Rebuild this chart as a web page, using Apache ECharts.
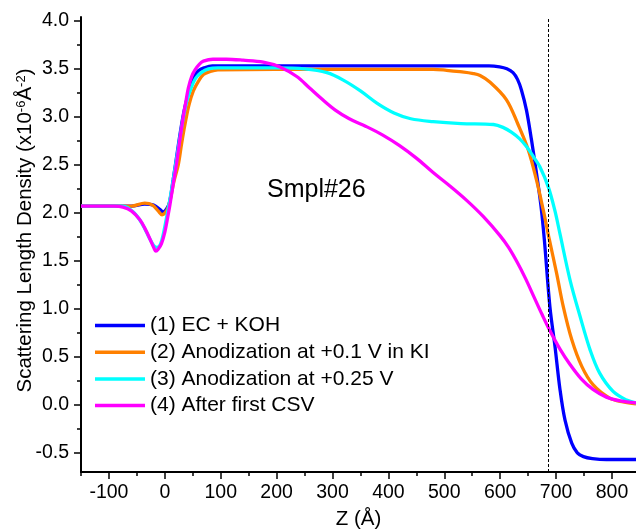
<!DOCTYPE html>
<html lang="en">
<head>
    <meta charset="UTF-8">
    <title>SLD profiles Smpl#26</title>
    <style>
        body, html {
            margin: 0;
            padding: 0;
            background-color: #ffffff;
        }
        #main {
            width: 636px;
            height: 529px;
        }
    </style>
    <script src="https://cdn.jsdelivr.net/npm/echarts@6/dist/echarts.min.js"></script>
</head>
<body>
    <div id="main"></div>

    <script>
        // series names
        var names = [
            "(1) EC + KOH",
            "(2) Anodization at +0.1 V in KI",
            "(3) Anodization at +0.25 V",
            "(4) After first CSV"
        ];

        // (1) EC + KOH
        var z1 = [-150, -60, -36, -20, -8, -3, 3, 8, 15, 22, 28, 34, 40, 45, 52, 60, 70, 85, 200, 400, 580, 599, 612, 623, 631, 638, 647, 656, 665, 673, 679, 689, 698, 707, 716, 728, 738, 749, 765, 790, 843];
        var sld1 = [2.07, 2.07, 2.09, 2.08, 2.03, 2.01, 2.04, 2.10, 2.35, 2.62, 2.85, 3.05, 3.20, 3.31, 3.42, 3.48, 3.51, 3.53, 3.53, 3.53, 3.53, 3.52, 3.50, 3.46, 3.39, 3.28, 3.07, 2.76, 2.41, 2.07, 1.72, 1.02, 0.61, 0.16, -0.16, -0.40, -0.50, -0.54, -0.56, -0.57, -0.57];

        // (2) Anodization at +0.1 V in KI
        var z2 = [-150, -60, -36, -22, -12, -5, 3, 9, 16, 24, 30, 36, 43, 51, 60, 69, 80, 95, 300, 480, 504, 528, 552, 564, 582, 611, 632, 650, 665, 677, 688, 701, 713, 728, 746, 766, 796, 820, 843];
        var sld2 = [2.07, 2.07, 2.10, 2.08, 2.02, 1.98, 2.02, 2.12, 2.32, 2.50, 2.72, 2.92, 3.12, 3.27, 3.37, 3.44, 3.47, 3.49, 3.495, 3.495, 3.485, 3.47, 3.45, 3.43, 3.36, 3.18, 2.92, 2.66, 2.34, 2.03, 1.72, 1.37, 1.02, 0.68, 0.40, 0.21, 0.07, 0.03, 0.01];

        // (3) Anodization at +0.25 V
        var z3 = [-150, -75, -55, -40, -28, -20, -14, -8, -2, 4, 10, 16, 22, 28, 34, 40, 47, 55, 65, 78, 95, 200, 250, 290, 320, 350, 380, 410, 440, 480, 530, 588, 605, 620, 635, 647, 660, 671, 686, 698, 707, 725, 743, 761, 778, 802, 826, 843];
        var sld3 = [2.07, 2.07, 2.00, 1.88, 1.74, 1.66, 1.64, 1.67, 1.80, 1.98, 2.17, 2.38, 2.60, 2.82, 3.02, 3.18, 3.30, 3.40, 3.46, 3.50, 3.51, 3.51, 3.50, 3.46, 3.38, 3.27, 3.14, 3.04, 2.98, 2.95, 2.93, 2.92, 2.89, 2.84, 2.77, 2.69, 2.58, 2.48, 2.27, 2.02, 1.78, 1.30, 0.92, 0.57, 0.33, 0.14, 0.05, 0.02];

        // (4) After first CSV
        var z4 = [-150, -90, -75, -60, -45, -35, -26, -20, -16, -12, -6, 0, 5, 9, 15, 21, 27, 33, 38, 42, 48, 54, 62, 69, 86, 110, 140, 176, 206, 236, 259, 280, 305, 330, 360, 390, 420, 450, 480, 510, 540, 570, 600, 615, 630, 645, 660, 675, 690, 707, 725, 745, 766, 790, 815, 843];
        var sld4 = [2.07, 2.07, 2.06, 2.02, 1.93, 1.83, 1.72, 1.64, 1.60, 1.62, 1.68, 1.80, 1.95, 2.08, 2.30, 2.52, 2.77, 3.00, 3.17, 3.30, 3.42, 3.49, 3.55, 3.58, 3.60, 3.60, 3.59, 3.57, 3.52, 3.42, 3.30, 3.19, 3.07, 2.98, 2.90, 2.81, 2.70, 2.57, 2.42, 2.28, 2.13, 1.96, 1.76, 1.64, 1.49, 1.32, 1.13, 0.94, 0.76, 0.58, 0.42, 0.27, 0.16, 0.08, 0.04, 0.02];

        // tick positions
        var xMajor = [-100, 0, 100, 200, 300, 400, 500, 600, 700, 800];
        var xMinor = [-150, -50, 50, 150, 250, 350, 450, 550, 650, 750];
        var yMajor = [-0.5, 0, 0.5, 1, 1.5, 2, 2.5, 3, 3.5, 4];
        var yMinor = [-0.25, 0.25, 0.75, 1.25, 1.75, 2.25, 2.75, 3.25, 3.75];

        var dashedZ = 686;
        var colors = ["#0000ff", "#ff8000", "#00ffff", "#ff00ff"];

        function pairs(xs, ys) {
            return xs.map(function (x, i) { return [x, ys[i]]; });
        }

        var font = "'Liberation Sans', Arial, sans-serif";
        var zs = [z1, z2, z3, z4];
        var sl = [sld1, sld2, sld3, sld4];

        var series = names.map(function (n, i) {
            return {
                name: n,
                type: "line",
                data: pairs(zs[i], sl[i]),
                showSymbol: false,
                smooth: 0.35,
                lineStyle: { width: 3.3, color: colors[i] },
                itemStyle: { color: colors[i] }
            };
        });

        series[0].markLine = {
            silent: true,
            symbol: "none",
            label: { show: false },
            lineStyle: { color: "#000", type: [3, 2], width: 1 },
            data: [{ xAxis: dashedZ }]
        };

        var my_chart = echarts.init(document.getElementById("main"));

        var option = {
            animation: false,
            color: colors,
            textStyle: { fontFamily: font, color: "#000" },
            grid: { left: 81, right: 0, top: 17, bottom: 57, containLabel: false, outerBoundsMode: "none" },
            legend: {
                data: names,
                orient: "vertical",
                left: 95,
                top: 315,
                padding: 0,
                icon: "rect",
                itemWidth: 50,
                itemHeight: 3.5,
                itemGap: 5.7,
                textStyle: { fontSize: 21, color: "#000", lineHeight: 21, fontFamily: font }
            },
            xAxis: [
                {
                    type: "value",
                    min: -150,
                    max: 843,
                    name: "Z (Å)",
                    nameLocation: "middle",
                    nameGap: 37,
                    nameMoveOverlap: false,
                    nameTextStyle: { fontSize: 20.5, color: "#000", fontFamily: font },
                    axisLine: { onZero: false, lineStyle: { color: "#000", width: 2 } },
                    axisTick: { length: 7, customValues: xMajor, lineStyle: { color: "#000", width: 1.5 } },
                    axisLabel: { customValues: xMajor, fontSize: 19.5, color: "#000", margin: 11, fontFamily: font },
                    splitLine: { show: false }
                },
                {
                    type: "value",
                    min: -150,
                    max: 843,
                    position: "bottom",
                    axisLine: { show: false, onZero: false },
                    axisTick: { length: 4, customValues: xMinor, lineStyle: { color: "#000", width: 1.5 } },
                    axisLabel: { show: false },
                    splitLine: { show: false }
                }
            ],
            yAxis: [
                {
                    type: "value",
                    min: -0.7,
                    max: 4.04,
                    name: "Scattering Length Density (x10{s|-6}Å{s|-2})",
                    nameLocation: "middle",
                    nameGap: 45,
                    nameMoveOverlap: false,
                    nameTextStyle: {
                        fontSize: 20.5,
                        color: "#000",
                        fontFamily: font,
                        padding: [0, 0, 0, 28],
                        rich: {
                            s: { fontSize: 13, verticalAlign: "top", color: "#000", fontFamily: font }
                        }
                    },
                    axisLine: { onZero: false, lineStyle: { color: "#000", width: 2 } },
                    axisTick: { length: 7, customValues: yMajor, lineStyle: { color: "#000", width: 1.5 } },
                    axisLabel: {
                        customValues: yMajor,
                        fontSize: 19.5,
                        color: "#000",
                        margin: 12,
                        fontFamily: font,
                        formatter: function (v) { return v.toFixed(1); }
                    },
                    splitLine: { show: false }
                },
                {
                    type: "value",
                    min: -0.7,
                    max: 4.04,
                    position: "left",
                    axisLine: { show: false, onZero: false },
                    axisTick: { length: 4, customValues: yMinor, lineStyle: { color: "#000", width: 1.5 } },
                    axisLabel: { show: false },
                    splitLine: { show: false }
                }
            ],
            graphic: [
                {
                    type: "text",
                    x: 267,
                    y: 190,
                    style: {
                        text: "Smpl#26",
                        fill: "#000",
                        fontSize: 25,
                        fontFamily: font,
                        verticalAlign: "middle"
                    }
                }
            ],
            series: series
        };

        my_chart.setOption(option);
    </script>
</body>
</html>
